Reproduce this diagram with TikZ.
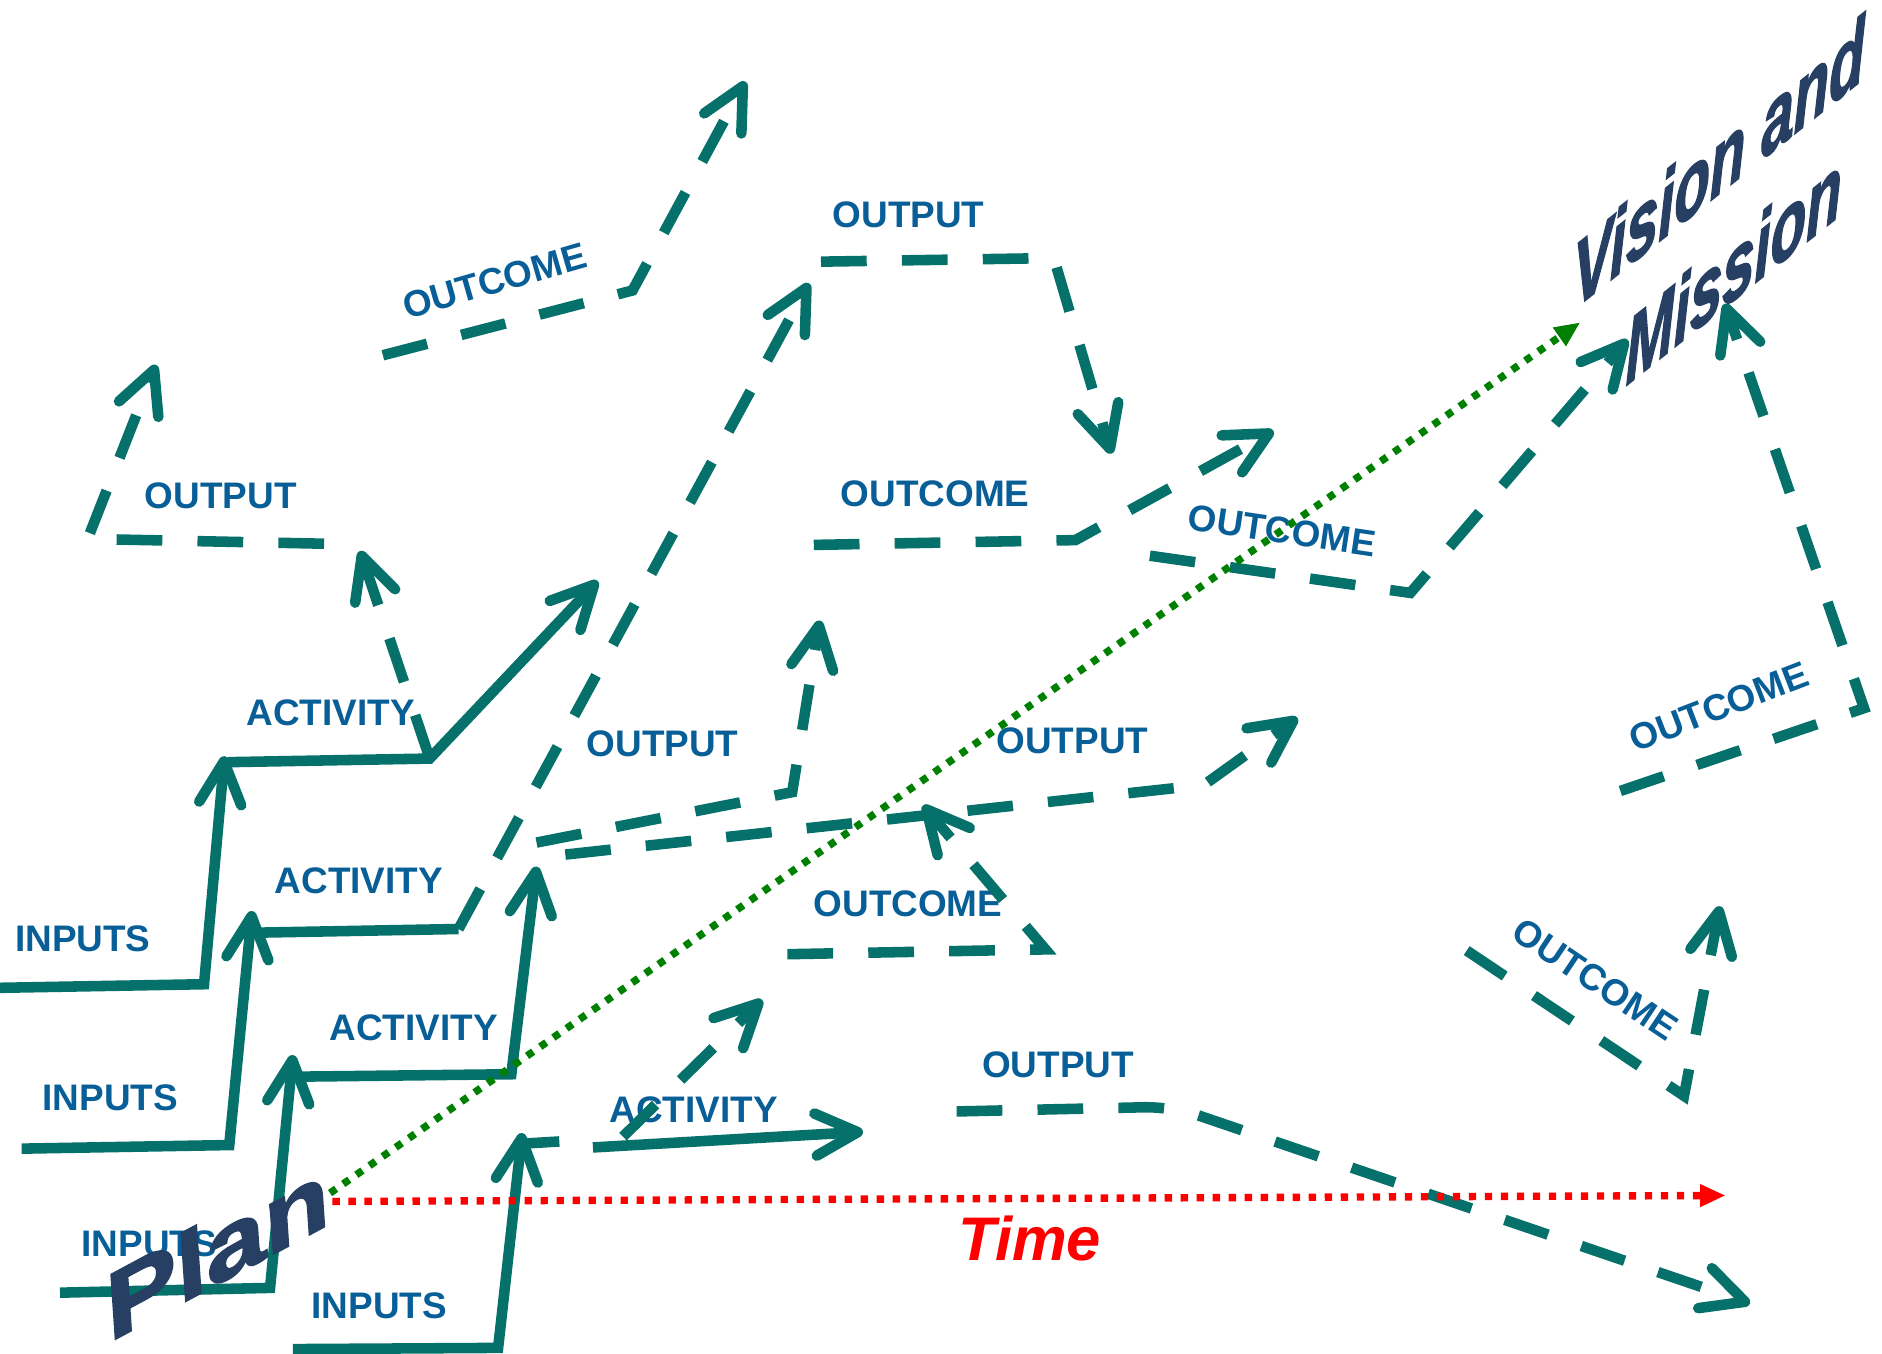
\documentclass[tikz,border=0pt]{standalone}
\usepackage{fontspec}
\setmainfont{Liberation Sans}
\newfontfamily\heavyfont{Liberation Sans}[BoldFeatures={FakeBold=2},BoldItalicFeatures={FakeBold=2}]
\usetikzlibrary{arrows.meta}
\definecolor{teal1}{RGB}{6,113,106}
\definecolor{lblue}{RGB}{8,94,150}
\definecolor{navy}{RGB}{38,63,98}
\definecolor{dgreen}{RGB}{0,128,0}
\tikzset{
  solidln/.style={draw=teal1, line width=3pt, -{Straight Barb[length=12pt,width=12pt,round]}},
  plainln/.style={draw=teal1, line width=3pt},
  dashln/.style={draw=teal1, line width=3pt, dash pattern=on 13pt off 10pt, -{Straight Barb[length=12pt,width=12pt,round]}},
  lbl/.style={text=lblue, font=\fontsize{10.5}{12}\selectfont\bfseries, inner sep=0pt},
  dotln/.style={line width=2.1pt, dash pattern=on 2.1pt off 2.45pt},
  bigtxt/.style={text=navy, inner sep=0pt, anchor=base west, transform shape},
}
\begin{document}
\begin{tikzpicture}[x=0.012cm, y=-0.012cm]
\useasboundingbox (0,0) rectangle (1568,1128);

% Vision and Mission (slanted word art)
\begin{scope}[shift={(1310.5,258.5)}, cm={0.6875,0.547,0,1.083,(0,0)}]
  \node[bigtxt, font=\heavyfont\fontsize{24}{28}\selectfont\bfseries\itshape] (vis) at (0,0) {Vision and};
\end{scope}
\begin{scope}[shift={(1354,322)}, cm={0.6875,0.547,0,1.083,(0,0)}]
  \node[bigtxt, font=\heavyfont\fontsize{24}{28}\selectfont\bfseries\itshape] (mis) at (0,0) {Mission};
\end{scope}

% labels
\node[lbl] (t1) at (184,413) {OUTPUT};
\node[lbl, rotate=16] (t2) at (412,234) {OUTCOME};
\node[lbl] (t3) at (757,179) {OUTPUT};
\node[lbl] (t4) at (779,411) {OUTCOME};
\node[lbl, rotate=-8.4] (t5) at (1068,442) {OUTCOME};
\node[lbl] (t6) at (275.5,594) {ACTIVITY};
\node[lbl] (t7) at (552,620) {OUTPUT};
\node[lbl] (t8) at (893.5,617) {OUTPUT};
\node[lbl] (t9) at (299,734) {ACTIVITY};
\node[lbl] (t10) at (69,782) {INPUTS};
\node[lbl] (t11) at (756.5,753) {OUTCOME};
\node[lbl] (t12) at (344.5,856) {ACTIVITY};
\node[lbl] (t13) at (92,914.5) {INPUTS};
\node[lbl] (t14) at (578,924.5) {ACTIVITY};
\node[lbl] (t15) at (881.5,887.5) {OUTPUT};
\node[lbl] (t16) at (124.5,1036) {INPUTS};
\node[lbl] (t17) at (316,1088) {INPUTS};
\node[lbl, rotate=21] (t18) at (1432,589) {OUTCOME};
\node[lbl, rotate=-33.7] (t19) at (1329,816) {OUTCOME};

% solid staircase lines
\draw[solidln] (0,823) -- (170,820) -- (187,630);
\draw[solidln] (190,635) -- (358,632) -- (498,484);
\draw[solidln] (18,957) -- (191,954) -- (210,759);
\draw[plainln] (217,777) -- (382,774);
\draw[solidln] (50,1077) -- (225,1073) -- (244,879);
\draw[solidln] (250,897) -- (426,895) -- (447,722);
\draw[solidln] (244,1124) -- (415,1123) -- (435,944);
\draw[plainln] (433,953) -- (466,951);
\draw[solidln] (494,956) -- (719,943);

% dashed lines
\draw[dashln] (358,632) -- (300,459);
\draw[dashln] (270,453) -- (73,449) -- (130,304);
\draw[dashln] (319,296) -- (527,242) -- (621,68);
\draw[dashln] (382,774) -- (674,236);
\draw[dashln] (684,218) -- (878,215) -- (926,378);
\draw[dashln] (678,454) -- (896,450) -- (1061,359);
\draw[dashln] (958,463) -- (1175,494) -- (1356,283);
\draw[dashln] (447,702) -- (660,660) -- (683,517);
\draw[dashln] (471,712) -- (1003,654) -- (1081,598);
\draw[dashln] (656,795) -- (871,791) -- (769,671);
\draw[dashln] (519,947) -- (635,833);
\draw[dashln, rounded corners=8pt] (797,926) -- (977,922) -- (1458,1086);
\draw[dashln] (1350,659) -- (1553,590) -- (1437,253);
\draw[dashln] (1222,792) -- (1403,913) -- (1433,755);

% dotted arrows
\coordinate (o1) at (275,994);
\coordinate (o2) at (277,1001);
\coordinate (gend) at (1316,269);
\coordinate (rend) at (1437,996);
\draw[dotln, dgreen, -{Triangle[length=7pt,width=6.5pt,line width=0.3pt]}] (o1) -- (gend);
\draw[dotln, red, -{Triangle[length=7pt,width=6.5pt,line width=0.3pt]}] (o2) -- (rend);

% Plan (slanted word art) and Time
\begin{scope}[shift={(90,1119)}, cm={1.03,0.554,-0.062,0.92,(0,0)}]
  \node[bigtxt, font=\heavyfont\fontsize{29}{34}\selectfont\bfseries] (plan) at (0,0) {Plan};
\end{scope}
\node[anchor=base, inner sep=0pt, text=red, font=\fontsize{17.5}{20}\selectfont\bfseries\itshape] (time) at (858,1050) {Time};
\end{tikzpicture}
\end{document}
